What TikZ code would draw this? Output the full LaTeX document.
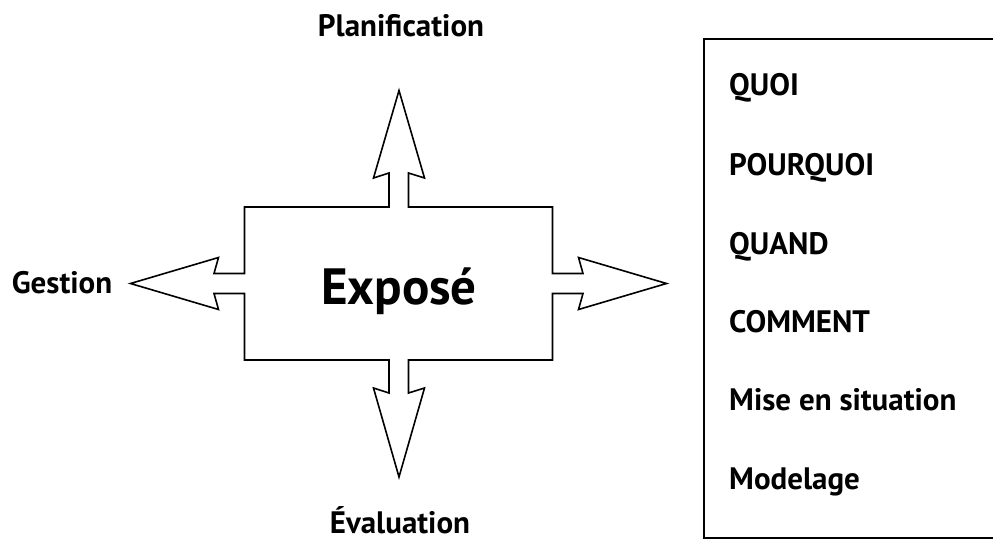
\documentclass[tikz,border=0pt]{standalone}
\usepackage{fontspec}
\setmainfont{PT Sans}
\begin{document}
\begin{tikzpicture}[x=1pt,y=-1pt,
  outline/.style={draw=black,line width=1.6pt,line join=miter},
  lbl/.style={font=\fontsize{31}{31}\selectfont\bfseries,inner sep=0pt,anchor=base},
  item/.style={font=\fontsize{31}{31}\selectfont\bfseries,inner sep=0pt,anchor=base west},
  title/.style={font=\fontsize{51}{51}\selectfont\bfseries,inner sep=0pt,anchor=base}]
\useasboundingbox (0,0) rectangle (993,541);
% central box with four arrows
\draw[outline] (244.5,207) -- (389,207) -- (389,173) -- (373.5,178) -- (399,90.5)
  -- (424.5,178) -- (408.5,173) -- (408.5,207) -- (552.5,207) -- (552.5,273.5)
  -- (583,273.5) -- (578.5,257.5) -- (666.5,283.5) -- (578.5,309.5) -- (583,293.5)
  -- (552.5,293.5) -- (552.5,360) -- (408.5,360) -- (408.5,393) -- (424.5,388)
  -- (399,477) -- (373.5,388) -- (389,393) -- (389,360) -- (244.5,360)
  -- (244.5,293.5) -- (214,293.5) -- (218.5,309.5) -- (130.5,283.5) -- (218.5,257.5)
  -- (214,273.5) -- (244.5,273.5) -- cycle;
\node[title] (expose) at (399,304) {Exposé};
\node[lbl] (plan) at (401,36.5) {Planification};
\node[lbl] (gest) at (62,293) {Gestion};
\node[lbl] (eval) at (400,533) {Évaluation};
% right box
\draw[outline,line width=1.2pt] (1000,39) -- (704,39) -- (704,538) -- (1000,538);
\node[item] (quoi) at (729,95) {QUOI};
\node[item] (pourquoi) at (729,175) {POURQUOI};
\node[item] (quand) at (729,254) {QUAND};
\node[item] (comment) at (729,332) {COMMENT};
\node[item] (mise) at (729,410) {Mise en situation};
\node[item] (model) at (729,489) {Modelage};
\end{tikzpicture}
\end{document}
